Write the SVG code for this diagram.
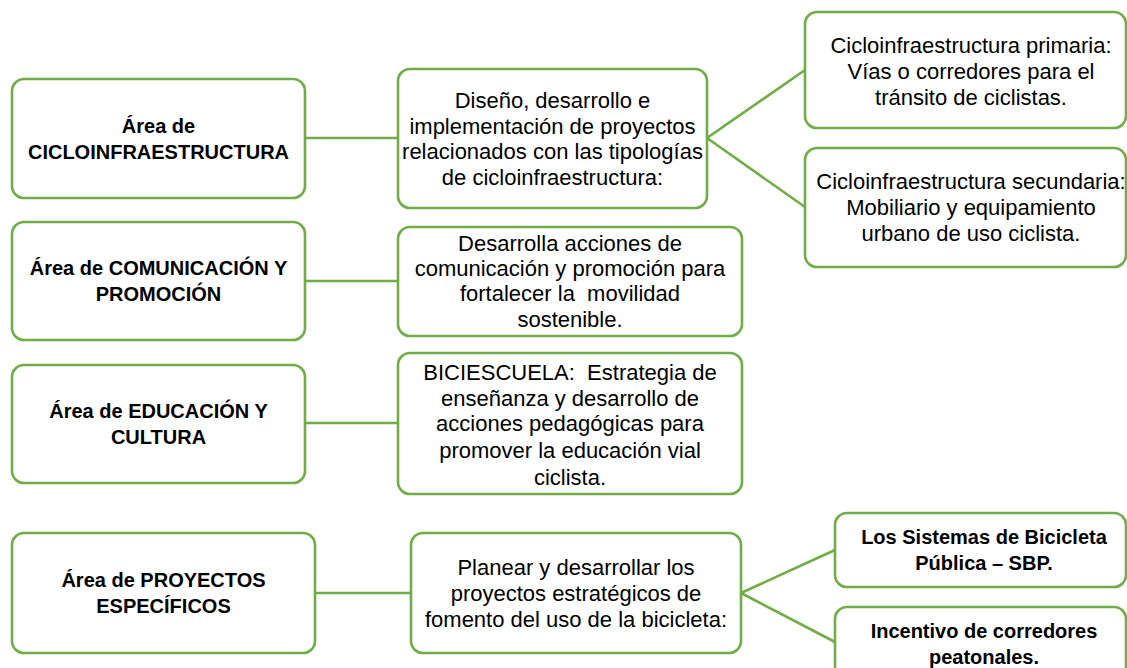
<svg xmlns="http://www.w3.org/2000/svg" width="1127" height="668" viewBox="0 0 1127 668">
<style>
.box{fill:#ffffff;stroke:#70AD47;stroke-width:2.6}
.c{stroke:#70AD47;stroke-width:2.6;fill:none}
.t{font-family:"Liberation Sans",Arial,sans-serif;font-size:22px;fill:#000;text-anchor:middle}
.b{font-family:"Liberation Sans",Arial,sans-serif;font-size:20px;font-weight:bold;fill:#000;text-anchor:middle}
</style>
<rect width="1127" height="668" fill="#ffffff"/>
<g id="connectors">
<line class="c" x1="305" y1="138" x2="398" y2="138"/>
<line class="c" x1="707" y1="138" x2="805" y2="70"/>
<line class="c" x1="707" y1="138" x2="805" y2="207"/>
<line class="c" x1="305" y1="281" x2="398" y2="281"/>
<line class="c" x1="305" y1="423" x2="398" y2="423"/>
<line class="c" x1="315" y1="593" x2="411" y2="593"/>
<line class="c" x1="741" y1="593" x2="835" y2="550"/>
<line class="c" x1="741" y1="593" x2="835" y2="642"/>
</g>
<g id="a1">
<rect class="box" x="12" y="79" width="293" height="119" rx="12"/>
<text class="b" x="158.5" y="133">Área de</text>
<text class="b" x="158.5" y="159">CICLOINFRAESTRUCTURA</text>
</g>
<g id="a2">
<rect class="box" x="12" y="222" width="293" height="118" rx="12"/>
<text class="b" x="158.5" y="275">Área de COMUNICACIÓN Y</text>
<text class="b" x="158.5" y="301">PROMOCIÓN</text>
</g>
<g id="a3">
<rect class="box" x="12" y="365" width="293" height="118" rx="12"/>
<text class="b" x="158.5" y="418">Área de EDUCACIÓN Y</text>
<text class="b" x="158.5" y="444">CULTURA</text>
</g>
<g id="a4">
<rect class="box" x="12" y="533" width="303" height="120" rx="12"/>
<text class="b" x="163.5" y="587">Área de PROYECTOS</text>
<text class="b" x="163.5" y="613">ESPECÍFICOS</text>
</g>
<g id="b1">
<rect class="box" x="398" y="69" width="309" height="139" rx="12"/>
<text class="t" x="552.5" y="108">Diseño, desarrollo e</text>
<text class="t" x="552.5" y="133.5">implementación de proyectos</text>
<text class="t" x="552.5" y="159">relacionados con las tipologías</text>
<text class="t" x="552.5" y="184.5">de cicloinfraestructura:</text>
</g>
<g id="b2">
<rect class="box" x="398" y="227" width="344" height="109" rx="12"/>
<text class="t" x="570" y="251">Desarrolla acciones de</text>
<text class="t" x="570" y="276">comunicación y promoción para</text>
<text class="t" x="570" y="301" xml:space="preserve">fortalecer la  movilidad</text>
<text class="t" x="570" y="327">sostenible.</text>
</g>
<g id="b3">
<rect class="box" x="398" y="353" width="344" height="141" rx="12"/>
<text class="t" x="570" y="380" xml:space="preserve">BICIESCUELA:  Estrategia de</text>
<text class="t" x="570" y="406">enseñanza y desarrollo de</text>
<text class="t" x="570" y="431">acciones pedagógicas para</text>
<text class="t" x="570" y="458">promover la educación vial</text>
<text class="t" x="570" y="485">ciclista.</text>
</g>
<g id="b4">
<rect class="box" x="411" y="533" width="330" height="120" rx="12"/>
<text class="t" x="576" y="575">Planear y desarrollar los</text>
<text class="t" x="576" y="601">proyectos estratégicos de</text>
<text class="t" x="576" y="627">fomento del uso de la bicicleta:</text>
</g>
<g id="c1">
<rect class="box" x="805" y="12" width="321" height="116" rx="12"/>
<text class="t" x="971" y="53">Cicloinfraestructura primaria:</text>
<text class="t" x="971" y="79">Vías o corredores para el</text>
<text class="t" x="971" y="105">tránsito de ciclistas.</text>
</g>
<g id="c2">
<rect class="box" x="805" y="148" width="321" height="119" rx="12"/>
<text class="t" x="971" y="189">Cicloinfraestructura secundaria:</text>
<text class="t" x="971" y="215">Mobiliario y equipamiento</text>
<text class="t" x="971" y="241">urbano de uso ciclista.</text>
</g>
<g id="c3">
<rect class="box" x="835" y="513" width="291" height="74" rx="12"/>
<text class="b" x="984" y="544">Los Sistemas de Bicicleta</text>
<text class="b" x="984" y="570">Pública – SBP.</text>
</g>
<g id="c4">
<rect class="box" x="835" y="607" width="291" height="74" rx="12"/>
<text class="b" x="984" y="638">Incentivo de corredores</text>
<text class="b" x="984" y="664">peatonales.</text>
</g>
</svg>
